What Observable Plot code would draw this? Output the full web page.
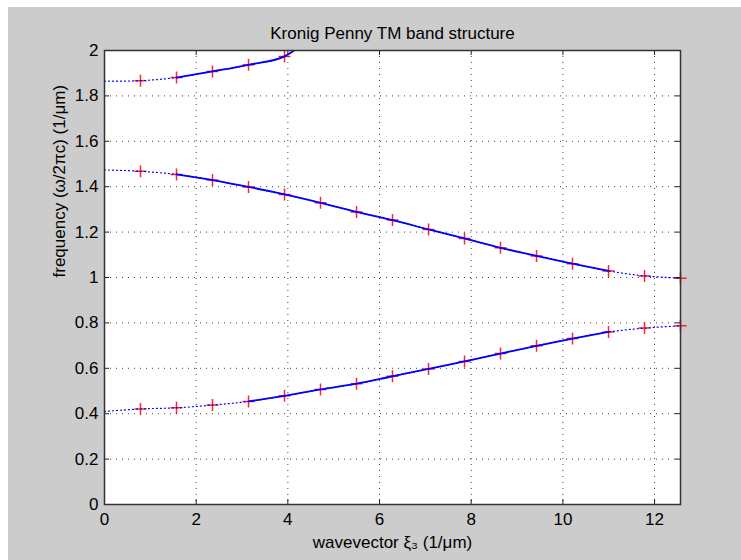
<!DOCTYPE html>
<html><head><meta charset="utf-8">
<script src="https://cdn.jsdelivr.net/npm/d3@7"></script>
<script src="https://cdn.jsdelivr.net/npm/@observablehq/plot@0.6"></script>
<style>
html,body{margin:0;padding:0;background:#fff;}
#wrap{padding-left:8px;padding-top:7px;width:733px;height:553px;}
</style></head><body><div id="wrap"></div><script>
// wavevector samples (1/µm)
const xValues = [0, 0.785, 1.571, 2.356, 3.142, 3.927, 4.712, 5.498, 6.283, 7.069, 7.854, 8.639, 9.425, 10.21, 10.996, 11.781, 12.566];
// band frequencies (1/µm)
const band1 = [0.41, 0.421, 0.426, 0.438, 0.454, 0.479, 0.507, 0.532, 0.565, 0.597, 0.630, 0.665, 0.699, 0.731, 0.760, 0.777, 0.787];
const band2 = [1.474, 1.468, 1.454, 1.429, 1.399, 1.366, 1.329, 1.289, 1.253, 1.212, 1.172, 1.131, 1.095, 1.061, 1.029, 1.007, 0.997];
const band3 = [1.865, 1.867, 1.881, 1.908, 1.937, 1.974, 2.1];
const bands = [band1, band2, band3];
// index range drawn as solid line per band
const solidStart = [4, 2, 2];
const solidEnd = [14, 14, 6];
const xTicks = [0, 2, 4, 6, 8, 10, 12];
const yTicks = [0, 0.2, 0.4, 0.6, 0.8, 1, 1.2, 1.4, 1.6, 1.8, 2];
const title = "Kronig Penny TM band structure";
const xLabel = "wavevector \u03BE\u2083 (1/\u03BCm)";
const yLabel = "frequency (\u03C9/2\u03C0c) (1/\u03BCm)";

const rows = [];
bands.forEach((b, bi) => b.forEach((y, i) => rows.push({band: bi, i, x: xValues[i], y})));
const solidRows = rows.filter(d => d.i >= solidStart[d.band] && d.i <= solidEnd[d.band]);
const markerRows = rows.filter(d => d.i >= 1 && d.y <= 2);

const plusSymbol = {
  draw(context, size) {
    const r = Math.sqrt(size / Math.PI);
    context.moveTo(-r, 0); context.lineTo(r, 0);
    context.moveTo(0, -r); context.lineTo(0, r);
  }
};

const W = 733, H = 553, mL = 96, mR = 61, mT = 43, mB = 56;
const pW = W - mL - mR, pH = H - mT - mB;

const chart = Plot.plot({
  width: W, height: H,
  marginLeft: mL, marginRight: mR, marginTop: mT, marginBottom: mB,
  style: {background: "#cccccc", fontFamily: "'Liberation Sans', Arial, sans-serif", fontSize: "17px", color: "black"},
  x: {domain: d3.extent(xValues), ticks: xTicks, tickSize: 0, tickPadding: 8, tickFormat: d => String(d), label: null},
  y: {domain: [yTicks[0], yTicks[yTicks.length - 1]], ticks: yTicks, tickSize: 0, tickPadding: 6, tickFormat: d => String(d), label: null},
  marks: [
    Plot.frame({fill: "white"}),
    Plot.ruleX(xTicks.slice(1), {x: d => d, stroke: "black", strokeOpacity: 0.75, strokeDasharray: "1,5"}),
    Plot.ruleY(yTicks.slice(1, -1), {y: d => d, stroke: "black", strokeOpacity: 0.75, strokeDasharray: "1,5"}),
    Plot.dot(markerRows, {x: "x", y: "y", symbol: plusSymbol, r: 6, fill: "none", stroke: "#ff0000", strokeWidth: 1.5, strokeOpacity: 0.85}),
    Plot.line(rows, {x: "x", y: "y", z: "band", curve: "catmull-rom", stroke: "#0000ff", strokeWidth: 1.2, strokeDasharray: "1,3", clip: true}),
    Plot.line(solidRows, {x: "x", y: "y", z: "band", curve: "catmull-rom", stroke: "#0000ff", strokeWidth: 1.8, clip: true}),
    Plot.tickX(xTicks, {x: d => d, insetTop: pH - 5, stroke: "#222"}),
    Plot.tickX(xTicks, {x: d => d, insetBottom: pH - 5, stroke: "#222"}),
    Plot.tickY(yTicks, {y: d => d, insetRight: pW - 5, stroke: "#222"}),
    Plot.tickY(yTicks, {y: d => d, insetLeft: pW - 5, stroke: "#222"}),
    Plot.frame({stroke: "#333", strokeWidth: 1.5}),
    Plot.text([title], {frameAnchor: "top", dy: -17, lineAnchor: "middle", fontSize: 17, fill: "black"}),
    Plot.text([xLabel], {frameAnchor: "bottom", dy: 38, lineAnchor: "middle", fontSize: 17, fill: "black"}),
    Plot.text([yLabel], {frameAnchor: "left", dx: -45, rotate: -90, lineAnchor: "middle", fontSize: 17, fill: "black"})
  ]
});
document.getElementById("wrap").appendChild(chart);
</script></body></html>
